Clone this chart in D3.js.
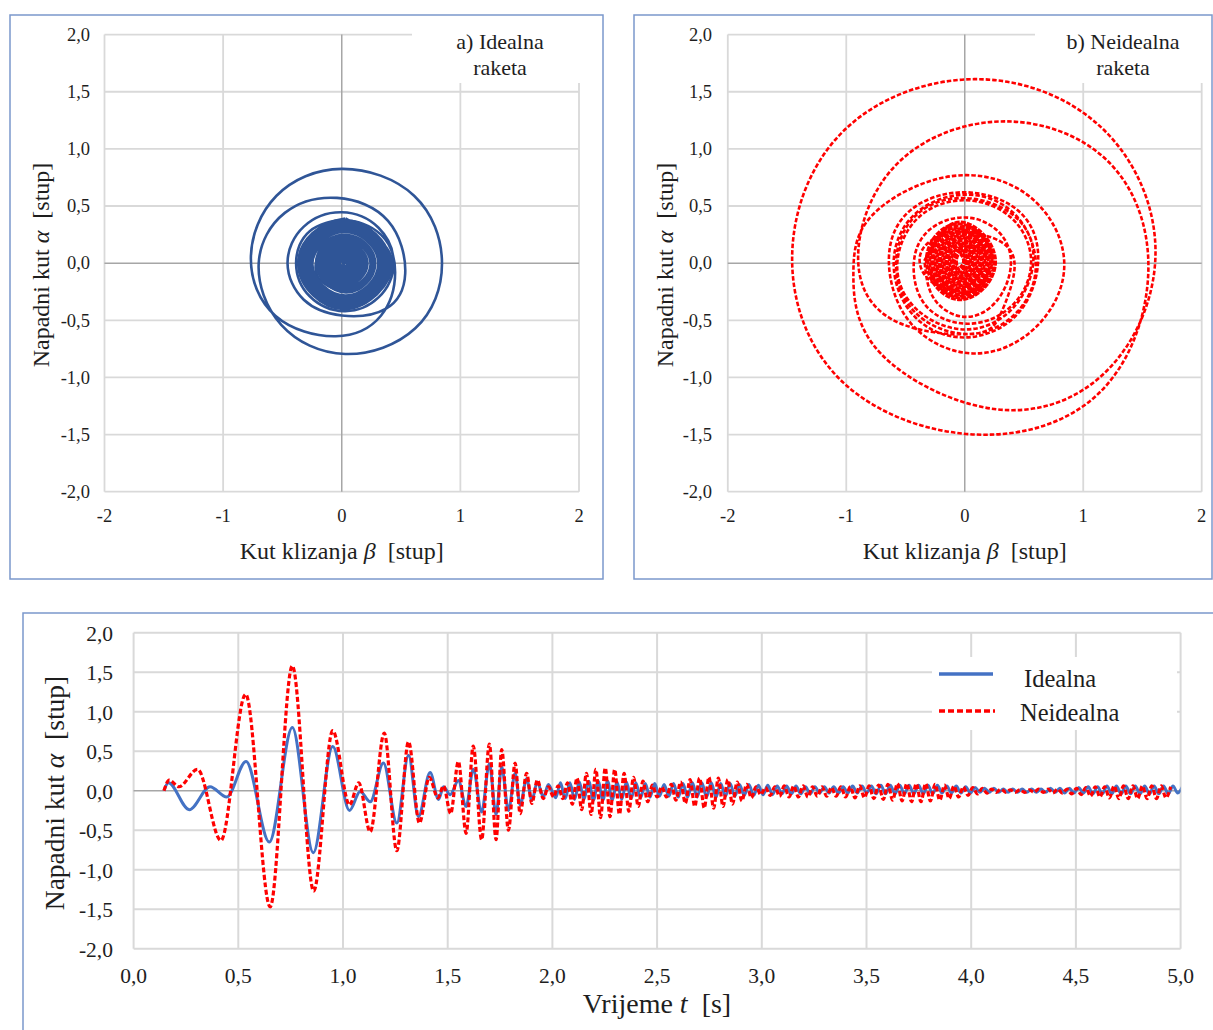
<!DOCTYPE html>
<html><head><meta charset="utf-8">
<script src="https://cdn.jsdelivr.net/npm/d3@7"></script>
<style>
body{margin:0;background:#fff}
svg{display:block}
</style></head>
<body><svg id="c" width="1213" height="1030"></svg>
<script>
// ---------- tick labels ----------
const betaTicks = [-2, -1, 0, 1, 2];
const betaLabels = ["-2", "-1", "0", "1", "2"];
const alphaTicks = [2, 1.5, 1, 0.5, 0, -0.5, -1, -1.5, -2];
const alphaLabels = ["2,0", "1,5", "1,0", "0,5", "0,0", "-0,5", "-1,0", "-1,5", "-2,0"];
const timeTicks = [0, 0.5, 1, 1.5, 2, 2.5, 3, 3.5, 4, 4.5, 5];
const timeLabels = ["0,0", "0,5", "1,0", "1,5", "2,0", "2,5", "3,0", "3,5", "4,0", "4,5", "5,0"];
const seriesNames = ["Idealna", "Neidealna"];

// ---------- time series: extrema [t, alpha] ----------
const idealnaEarly = [
  [0.145, 0.00], [0.166, 0.10], [0.266, -0.24], [0.365, 0.05], [0.445, -0.08],
  [0.537, 0.37], [0.648, -0.65], [0.758, 0.80], [0.858, -0.785], [0.951, 0.56],
  [1.031, -0.25], [1.082, -0.01], [1.130, -0.14], [1.193, 0.35], [1.257, -0.41],
  [1.313, 0.45], [1.360, -0.33], [1.416, 0.23], [1.456, -0.11], [1.480, 0.05],
  [1.512, -0.05], [1.551, 0.13], [1.588, -0.20], [1.622, 0.27], [1.662, -0.27],
  [1.699, 0.34], [1.731, -0.30], [1.758, 0.30], [1.790, -0.25], [1.822, 0.22],
  [1.846, -0.18], [1.877, 0.15], [1.902, -0.12], [1.928, 0.11], [1.957, -0.08],
  [1.981, 0.08]
];
const neidealnaEarly = [
  [0.145, 0.00], [0.170, 0.135], [0.216, 0.05], [0.305, 0.27], [0.417, -0.63],
  [0.535, 1.22], [0.652, -1.47], [0.758, 1.58], [0.860, -1.27], [0.951, 0.76],
  [1.031, -0.18], [1.075, 0.10], [1.130, -0.52], [1.197, 0.73], [1.257, -0.76],
  [1.313, 0.62], [1.365, -0.41], [1.412, 0.17], [1.453, -0.09], [1.480, 0.06],
  [1.514, -0.29], [1.551, 0.37], [1.588, -0.54], [1.622, 0.565], [1.662, -0.62],
  [1.699, 0.59], [1.731, -0.62], [1.758, 0.52], [1.790, -0.50], [1.822, 0.35],
  [1.846, -0.29], [1.877, 0.22], [1.902, -0.16], [1.928, 0.135], [1.957, -0.10],
  [1.981, 0.05]
];
// dense part: successive extrema, one every half period
const halfPeriod = 0.0225;
const idealnaDenseStart = 2.016;
const idealnaDense = [
  -0.09, 0.10, -0.10, 0.10, -0.11, 0.11, -0.11, 0.12, -0.12, 0.12, -0.12, 0.12, -0.12, 0.11, -0.11, 0.11, -0.10, 0.10, -0.09, 0.09, -0.08, 0.09,
  -0.07, 0.08, -0.07, 0.09, -0.08, 0.09, -0.08, 0.10, -0.08, 0.10, -0.08, 0.10, -0.08, 0.09, -0.07, 0.09, -0.07, 0.08, -0.06, 0.08, -0.06, 0.07,
  -0.05, 0.07, -0.05, 0.06, -0.04, 0.06, -0.04, 0.06, -0.04, 0.05, -0.04, 0.05, -0.03, 0.05, -0.03, 0.05, -0.03, 0.05, -0.03, 0.06, -0.03, 0.06,
  -0.03, 0.06, -0.04, 0.07, -0.04, 0.07, -0.04, 0.07, -0.04, 0.07, -0.04, 0.07, -0.04, 0.07, -0.04, 0.07, -0.03, 0.06, -0.03, 0.06, -0.03, 0.05,
  -0.03, 0.04, -0.02, 0.03, -0.02, 0.03, -0.02, 0.02, -0.02, 0.02, -0.02, 0.02, -0.02, 0.02, -0.02, 0.02, -0.02, 0.03, -0.02, 0.03, -0.03, 0.03,
  -0.03, 0.04, -0.03, 0.05, -0.04, 0.05, -0.04, 0.06, -0.04, 0.06, -0.04, 0.06, -0.04, 0.06, -0.04, 0.06, -0.04, 0.06, -0.04, 0.06, -0.04, 0.06, -0.03, 0.05
];
const neidealnaDenseStart = 2.005;
const neidealnaDense = [
  -0.08, 0.06, -0.10, 0.10, -0.17, 0.16, -0.24, 0.22, -0.30, 0.27, -0.34, 0.29, -0.33, 0.27, -0.30, 0.22, -0.26, 0.17, -0.20, 0.12, -0.14, 0.07,
  -0.08, 0.05, -0.08, 0.08, -0.12, 0.11, -0.16, 0.14, -0.20, 0.16, -0.22, 0.17, -0.22, 0.16, -0.20, 0.14, -0.17, 0.11, -0.13, 0.08, -0.09, 0.05,
  -0.05, 0.04, -0.06, 0.05, -0.07, 0.06, -0.08, 0.06, -0.08, 0.06, -0.08, 0.05, -0.07, 0.05, -0.07, 0.04, -0.07, 0.05, -0.08, 0.05, -0.09, 0.06,
  -0.09, 0.06, -0.10, 0.07, -0.11, 0.08, -0.12, 0.09, -0.13, 0.09, -0.14, 0.09, -0.14, 0.09, -0.13, 0.08, -0.12, 0.07, -0.10, 0.06, -0.08, 0.05,
  -0.06, 0.04, -0.04, 0.03, -0.03, 0.02, -0.02, 0.02, -0.02, 0.01, -0.02, 0.01, -0.02, 0.01, -0.02, 0.02, -0.02, 0.02, -0.03, 0.02, -0.03, 0.02,
  -0.04, 0.03, -0.05, 0.04, -0.07, 0.05, -0.08, 0.05, -0.09, 0.06, -0.10, 0.06, -0.10, 0.06, -0.10, 0.06, -0.10, 0.06, -0.10, 0.06, -0.09, 0.05
];

// ---------- phase portraits: [beta, alpha] points ----------
// outer spiral: 8 points per revolution (top, top-right, right, ..., top-left)
const phaseIdealnaOuter = [
  [0.00, 0.00], [0.12, -0.02], [0.08, -0.17], [0.00, -0.24], [-0.16, -0.17], [-0.22, -0.02], [-0.14, 0.22],
  [0.03, 0.37], [0.33, 0.25], [0.45, -0.08], [0.33, -0.46], [-0.05, -0.64], [-0.56, -0.46], [-0.766, 0.05], [-0.55, 0.59],
  [0.00, 0.825], [0.61, 0.59], [0.845, 0.00], [0.62, -0.57], [0.03, -0.795], [-0.51, -0.54], [-0.70, 0.00], [-0.48, 0.44],
  [-0.04, 0.571], [0.39, 0.37], [0.535, -0.09], [0.37, -0.40], [0.00, -0.458], [-0.32, -0.32], [-0.457, 0.00], [-0.32, 0.32],
  [0.00, 0.445], [0.31, 0.31], [0.437, 0.00], [0.31, -0.30], [0.02, -0.42], [-0.27, -0.29], [-0.385, 0.00], [-0.27, 0.28],
  [0.03, 0.39]
];
// dense core: 4 points per revolution (top, right, bottom, left)
const phaseIdealnaCore = [
  [0.03, 0.39], [0.425, -0.005], [0.03, -0.40], [-0.365, -0.005],
  [0.02, 0.375], [0.41, -0.01], [0.035, -0.385], [-0.35, 0.00],
  [0.03, 0.36], [0.395, -0.005], [0.03, -0.37], [-0.335, -0.005],
  [0.035, 0.345], [0.385, -0.01], [0.025, -0.355], [-0.32, 0.00],
  [0.03, 0.33], [0.365, -0.005], [0.03, -0.34], [-0.305, -0.005],
  [0.03, 0.315], [0.35, -0.005], [0.03, -0.325], [-0.29, 0.00],
  [0.035, 0.295], [0.335, -0.01], [0.03, -0.305], [-0.265, 0.00],
  [0.03, 0.275], [0.31, -0.005], [0.03, -0.285], [-0.25, -0.005],
  [0.03, 0.245], [0.28, -0.005], [0.035, -0.255], [-0.215, 0.00],
  [0.03, 0.225], [0.26, -0.005], [0.03, -0.235], [-0.20, -0.005],
  [0.035, 0.205], [0.245, -0.01], [0.03, -0.215], [-0.18, 0.00],
  [0.03, 0.18], [0.215, -0.005], [0.03, -0.19], [-0.155, -0.005],
  [0.03, 0.16], [0.195, -0.005], [0.03, -0.17], [-0.135, 0.00],
  [0.03, 0.14], [0.175, -0.005], [0.03, -0.15], [-0.115, -0.005],
  [0.03, 0.12], [0.155, -0.005], [0.03, -0.13], [-0.095, 0.00],
  [0.03, 0.10], [0.135, -0.005], [0.03, -0.11], [-0.075, -0.005],
  [0.03, 0.08], [0.115, -0.005], [0.03, -0.09], [-0.055, 0.00],
  [0.03, 0.06], [0.095, -0.005], [0.03, -0.07], [-0.035, -0.005],
  [0.03, 0.04], [0.075, -0.005], [0.03, -0.05], [-0.015, 0.00],
  [0.03, 0.02], [0.05, -0.005], [0.03, -0.025], [0.01, -0.005]
];
const phaseNeidealnaOuter = [
  [0.00, 0.00], [-0.02, 0.14], [0.15, 0.11], [0.22, 0.02], [0.16, -0.18], [0.02, -0.25], [-0.27, -0.17], [-0.38, 0.05], [-0.25, 0.22],
  [0.00, 0.27], [0.30, 0.19], [0.42, -0.05], [0.30, -0.45], [0.05, -0.62], [-0.60, -0.50], [-0.90, 0.05], [-0.58, 0.86],
  [0.30, 1.24], [1.20, 0.90], [1.55, -0.05], [1.15, -1.12], [0.10, -1.50], [-1.02, -1.05], [-1.457, 0.03], [-1.03, 1.15],
  [0.08, 1.61], [1.16, 1.18], [1.61, 0.12], [1.22, -0.92], [0.28, -1.28], [-0.71, -0.79], [-0.94, -0.10], [-0.78, 0.42],
  [-0.12, 0.76], [0.55, 0.58], [0.84, 0.00], [0.60, -0.56], [0.07, -0.79], [-0.46, -0.52], [-0.64, 0.05], [-0.45, 0.47],
  [0.00, 0.62], [0.45, 0.46], [0.62, 0.05], [0.45, -0.44], [0.00, -0.65], [-0.43, -0.46], [-0.60, 0.00], [-0.42, 0.43],
  [0.02, 0.60], [0.43, 0.42], [0.60, -0.02], [0.43, -0.44], [0.02, -0.62], [-0.42, -0.43], [-0.58, 0.00], [-0.42, 0.41],
  [-0.02, 0.57], [0.41, 0.42], [0.58, 0.05], [0.41, -0.39], [0.00, -0.58], [-0.41, -0.40], [-0.57, -0.02], [-0.40, 0.39],
  [0.00, 0.55], [0.40, 0.39], [0.56, 0.00], [0.39, -0.38], [0.02, -0.53], [-0.33, -0.37], [-0.43, 0.00], [-0.30, 0.29],
  [0.00, 0.40], [0.28, 0.28], [0.39, 0.00], [0.27, -0.33], [0.00, -0.47], [-0.26, -0.31], [-0.34, 0.02]
];
const phaseNeidealnaCore = [
  [-0.34, 0.02], [-0.04, 0.36], [0.26, 0.02], [-0.04, -0.32],
  [-0.325, 0.02], [-0.05, 0.345], [0.245, 0.01], [-0.04, -0.305],
  [-0.31, 0.03], [-0.04, 0.33], [0.23, 0.02], [-0.05, -0.29],
  [-0.295, 0.02], [-0.04, 0.315], [0.215, 0.02], [-0.04, -0.275],
  [-0.28, 0.02], [-0.05, 0.30], [0.20, 0.01], [-0.04, -0.26],
  [-0.265, 0.02], [-0.04, 0.285], [0.185, 0.02], [-0.04, -0.245],
  [-0.25, 0.02], [-0.04, 0.27], [0.17, 0.02], [-0.05, -0.23],
  [-0.235, 0.02], [-0.04, 0.255], [0.155, 0.02], [-0.04, -0.215],
  [-0.22, 0.02], [-0.04, 0.24], [0.14, 0.02], [-0.04, -0.20],
  [-0.205, 0.02], [-0.04, 0.225], [0.125, 0.02], [-0.04, -0.185],
  [-0.19, 0.02], [-0.04, 0.21], [0.11, 0.02], [-0.04, -0.17],
  [-0.175, 0.02], [-0.04, 0.195], [0.095, 0.02], [-0.04, -0.155],
  [-0.16, 0.02], [-0.04, 0.18], [0.08, 0.02], [-0.04, -0.14],
  [-0.145, 0.02], [-0.04, 0.165], [0.065, 0.02], [-0.04, -0.125],
  [-0.13, 0.02], [-0.04, 0.15], [0.05, 0.02], [-0.04, -0.11],
  [-0.115, 0.02], [-0.04, 0.135], [0.035, 0.02], [-0.04, -0.095],
  [-0.10, 0.02], [-0.04, 0.12], [0.02, 0.02], [-0.04, -0.08],
  [-0.085, 0.02], [-0.04, 0.10], [0.005, 0.02], [-0.04, -0.06],
  [-0.07, 0.02], [-0.04, 0.08], [-0.01, 0.02], [-0.04, -0.04]
];

// ---------- drawing ----------
const FONT = '"Liberation Serif", Tinos, "Times New Roman", Times, "Noto Serif", "DejaVu Serif", serif';
const svg = d3.select("#c").attr("font-family", FONT);
svg.append("rect").attr("width", 1213).attr("height", 1030).attr("fill", "#fff");
const GRID = "#d9d9d9", ZERO = "#a6a6a6", FRAME = "#7b98cc", INK = "#1e1e1e";
const BLUE_TS = "#4472c4", BLUE_PH = "#2f5597", RED = "#ff0000";

function txt(g) { return g.append("text").attr("fill", INK).attr("font-family", FONT); }

function phasePanel(o) {
  const g = svg.append("g");
  const x = d3.scaleLinear().domain([-2, 2]).range([o.x0, o.x1]);
  const y = d3.scaleLinear().domain([-2, 2]).range([491.7, 34.6]);
  betaTicks.filter(d => d !== 0).forEach(d => g.append("line")
    .attr("x1", x(d)).attr("x2", x(d)).attr("y1", y(2)).attr("y2", y(-2))
    .attr("stroke", GRID).attr("stroke-width", 1.8));
  alphaTicks.filter(d => d !== 0).forEach(d => g.append("line")
    .attr("x1", x(-2)).attr("x2", x(2)).attr("y1", y(d)).attr("y2", y(d))
    .attr("stroke", GRID).attr("stroke-width", 1.8));
  g.append("line").attr("x1", x(0)).attr("x2", x(0)).attr("y1", y(2)).attr("y2", y(-2))
    .attr("stroke", ZERO).attr("stroke-width", 1.5);
  g.append("line").attr("x1", x(-2)).attr("x2", x(2)).attr("y1", y(0)).attr("y2", y(0))
    .attr("stroke", ZERO).attr("stroke-width", 1.5);
  g.append("rect").attr("x", o.boxX).attr("y", 17).attr("width", o.boxW).attr("height", 66).attr("fill", "#fff");
  const line = d3.line().x(d => x(d[0])).y(d => y(d[1])).curve(d3.curveNatural);
  g.append("path").datum(o.outer).attr("d", line).attr("fill", "none")
    .attr("stroke", o.color).attr("stroke-width", o.sw)
    .attr("stroke-dasharray", o.dash || null).attr("stroke-linejoin", "round");
  g.append("path").datum(o.core).attr("d", line).attr("fill", "none")
    .attr("stroke", o.color).attr("stroke-width", o.swCore)
    .attr("stroke-dasharray", o.dashCore || null).attr("stroke-linejoin", "round");
  alphaTicks.forEach((d, i) => txt(g).attr("x", o.ylabX).attr("y", y(d) + 6.3).attr("text-anchor", "end")
    .attr("font-size", 18.5).text(alphaLabels[i]));
  betaTicks.forEach((d, i) => txt(g).attr("x", x(d)).attr("y", 521.5).attr("text-anchor", "middle")
    .attr("font-size", 18.5).text(betaLabels[i]));
  const yt = txt(g).attr("transform", `translate(${o.ytX},265) rotate(-90)`)
    .attr("text-anchor", "middle").attr("font-size", 24);
  yt.append("tspan").text("Napadni kut ");
  yt.append("tspan").attr("font-style", "italic").text("α");
  yt.append("tspan").text("\u00a0\u00a0[stup]");
  const xt = txt(g).attr("x", x(0)).attr("y", 558.5).attr("text-anchor", "middle").attr("font-size", 24);
  xt.append("tspan").text("Kut klizanja ");
  xt.append("tspan").attr("font-style", "italic").text("β");
  xt.append("tspan").text("\u00a0\u00a0[stup]");
  txt(g).attr("x", o.tX).attr("y", 49).attr("text-anchor", "middle").attr("font-size", 22).text(o.t1);
  txt(g).attr("x", o.tX).attr("y", 75).attr("text-anchor", "middle").attr("font-size", 22).text("raketa");
  g.append("rect").attr("x", o.fx).attr("y", 15).attr("width", o.fw).attr("height", 564)
    .attr("fill", "none").attr("stroke", FRAME).attr("stroke-width", 1.5);
}

phasePanel({x0: 104.5, x1: 579, boxX: 412, boxW: 186, outer: phaseIdealnaOuter, core: phaseIdealnaCore,
  color: BLUE_PH, sw: 2.6, swCore: 3.1, ylabX: 90, ytX: 49, tX: 500, t1: "a) Idealna", fx: 10, fw: 593});
phasePanel({x0: 727.8, x1: 1201.7, boxX: 1035, boxW: 176, outer: phaseNeidealnaOuter, core: phaseNeidealnaCore,
  color: RED, sw: 2.6, dash: "4.5,2", swCore: 3, dashCore: "5,1.2",
  ylabX: 712, ytX: 673, tX: 1123, t1: "b) Neidealna", fx: 634, fw: 578});

// ---------- bottom time chart ----------
(function () {
  const g = svg.append("g");
  const x = d3.scaleLinear().domain([0, 5]).range([133.6, 1180.6]);
  const y = d3.scaleLinear().domain([-2, 2]).range([948.7, 632.7]);
  g.append("defs").append("clipPath").attr("id", "clipT").append("rect")
    .attr("x", x(0)).attr("y", y(2) - 2).attr("width", x(5) - x(0)).attr("height", y(-2) - y(2) + 4);
  timeTicks.forEach(d => g.append("line")
    .attr("x1", x(d)).attr("x2", x(d)).attr("y1", y(2)).attr("y2", y(-2))
    .attr("stroke", GRID).attr("stroke-width", 2));
  alphaTicks.filter(d => d !== 0).forEach(d => g.append("line")
    .attr("x1", x(0)).attr("x2", x(5)).attr("y1", y(d)).attr("y2", y(d))
    .attr("stroke", GRID).attr("stroke-width", 2));
  g.append("line").attr("x1", x(0)).attr("x2", x(5)).attr("y1", y(0)).attr("y2", y(0))
    .attr("stroke", ZERO).attr("stroke-width", 1.6);

  const blue = idealnaEarly.concat(idealnaDense.map((v, i) => [idealnaDenseStart + i * halfPeriod, v]));
  const red = neidealnaEarly.concat(neidealnaDense.map((v, i) => [neidealnaDenseStart + i * halfPeriod, v]));
  const line = d3.line().x(d => x(d[0])).y(d => y(d[1])).curve(d3.curveMonotoneX);
  const pg = g.append("g").attr("clip-path", "url(#clipT)");
  pg.append("path").datum(blue).attr("d", line).attr("fill", "none")
    .attr("stroke", BLUE_TS).attr("stroke-width", 3).attr("stroke-linejoin", "round");
  pg.append("path").datum(red).attr("d", line).attr("fill", "none")
    .attr("stroke", RED).attr("stroke-width", 3.2).attr("stroke-dasharray", "5,2.5");

  g.append("rect").attr("x", 932).attr("y", 657).attr("width", 245).attr("height", 73).attr("fill", "#fff");
  g.append("line").attr("x1", 939).attr("x2", 993).attr("y1", 674).attr("y2", 674)
    .attr("stroke", BLUE_TS).attr("stroke-width", 3.3);
  g.append("line").attr("x1", 939).attr("x2", 995).attr("y1", 711).attr("y2", 711)
    .attr("stroke", RED).attr("stroke-width", 3.3).attr("stroke-dasharray", "6,3");
  txt(g).attr("x", 1024).attr("y", 686.5).attr("font-size", 24.5).text(seriesNames[0]);
  txt(g).attr("x", 1020).attr("y", 721).attr("font-size", 24.5).text(seriesNames[1]);

  alphaTicks.forEach((d, i) => txt(g).attr("x", 113).attr("y", y(d) + 8).attr("text-anchor", "end")
    .attr("font-size", 21.5).text(alphaLabels[i]));
  timeTicks.forEach((d, i) => txt(g).attr("x", x(d)).attr("y", 982.7).attr("text-anchor", "middle")
    .attr("font-size", 21.5).text(timeLabels[i]));
  const yt = txt(g).attr("transform", "translate(64,793) rotate(-90)")
    .attr("text-anchor", "middle").attr("font-size", 27.5);
  yt.append("tspan").text("Napadni kut ");
  yt.append("tspan").attr("font-style", "italic").text("α");
  yt.append("tspan").text("\u00a0\u00a0[stup]");
  const xt = txt(g).attr("x", 657).attr("y", 1013).attr("text-anchor", "middle").attr("font-size", 28);
  xt.append("tspan").text("Vrijeme ");
  xt.append("tspan").attr("font-style", "italic").text("t");
  xt.append("tspan").text("\u00a0\u00a0[s]");
  g.append("rect").attr("x", 23).attr("y", 613).attr("width", 1220).attr("height", 440)
    .attr("fill", "none").attr("stroke", FRAME).attr("stroke-width", 1.5);
})();
</script></body></html>
